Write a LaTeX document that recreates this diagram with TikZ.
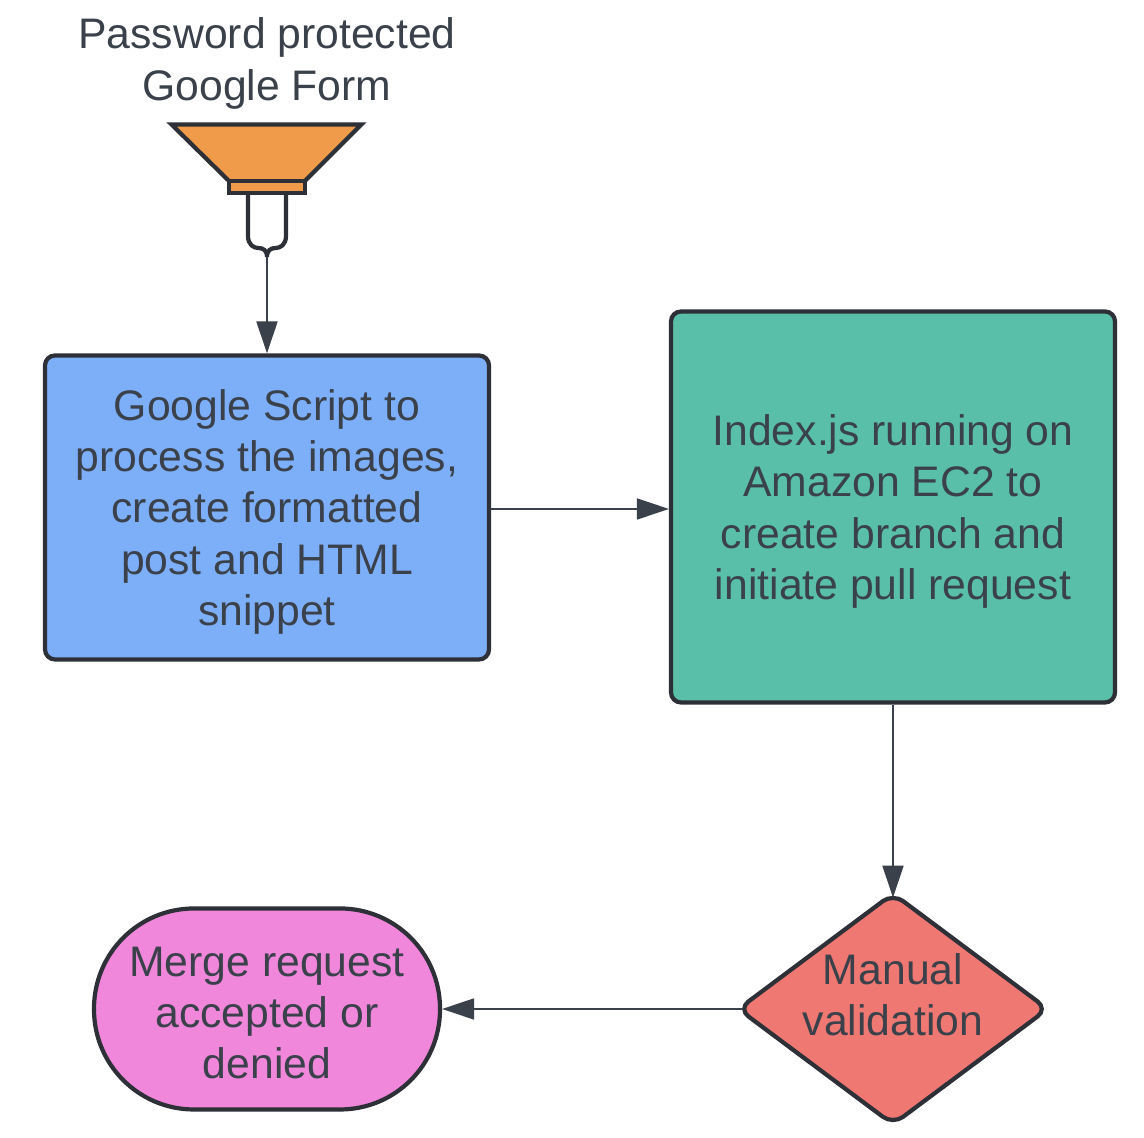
\documentclass[tikz,border=0pt]{standalone}
\usepackage{fontspec}
\setmainfont{Liberation Sans}
\usepackage{tikz}
\usetikzlibrary{arrows.meta, positioning, shapes.geometric, calc}
\definecolor{flow-ink}{RGB}{58, 65, 74}
\definecolor{flow-line}{RGB}{46, 48, 56}
\definecolor{flow-orange}{RGB}{240, 155, 74}
\definecolor{flow-blue}{RGB}{125, 174, 248}
\definecolor{flow-green}{RGB}{89, 191, 168}
\definecolor{flow-red}{RGB}{239, 120, 114}
\definecolor{flow-pink}{RGB}{240, 135, 219}

\begin{document}
\begin{tikzpicture}[
  flowtext/.style={align=center,text=flow-ink,text depth=0pt,font=\fontsize{24.3}{29.2}\selectfont},
  box/.style={flowtext,rectangle,draw=flow-line,line width=2.4pt,rounded corners=0.2cm,
              minimum width=8.88cm},
  decision/.style={flowtext,diamond,draw=flow-line,line width=2.4pt,rounded corners=0.25cm,
              aspect=1.33,inner sep=-0.7cm,text depth=0.58cm,minimum width=6.22cm,minimum height=4.65cm},
  terminal/.style={flowtext,rectangle,draw=flow-line,line width=2.4pt,rounded corners=2cm,
              text height=2.79cm,minimum width=6.92cm,minimum height=4.02cm},
  funnel/.style={draw=flow-line,line width=2.4pt,fill=flow-orange,line join=miter},
  arrow/.style={-{Triangle[length=0.64cm,width=0.42cm]},line width=1.1pt,draw=flow-ink}
]
  \useasboundingbox (0,0) rectangle (22.88,22.76);

  \node[flowtext]                                     (form)   at (5.34,21.58) {Password protected\\Google Form};
  \node[box, fill=flow-blue, minimum height=6.08cm]   (script) at (5.34,12.61) {Google Script to\\process the images,\\create formatted\\post and HTML\\snippet};
  \node[box, fill=flow-green, minimum height=7.82cm]  (index)  at (17.86,12.62) {Index.js running on\\Amazon EC2 to\\create branch and\\initiate pull request};
  \node[decision, fill=flow-red]                      (manual) at (17.86,2.58) {Manual\\validation};
  \node[terminal, fill=flow-pink]                     (merge)  at (5.34,2.58) {Merge request\\accepted or\\denied};

  % funnel below the form title
  \draw[funnel] (3.43,20.27) -- (7.23,20.27) -- (6.08,19.12) -- (4.60,19.12) -- cycle;
  \draw[funnel] (4.58,18.90) rectangle (6.10,19.14);
  \draw[draw=flow-line,line width=2.4pt] (4.96,18.90) -- (4.96,18.04)
    .. controls (4.96,17.86) and (5.08,17.80) .. (5.16,17.80)
    .. controls (5.26,17.80) and (5.34,17.76) .. (5.34,17.62)
    .. controls (5.34,17.76) and (5.42,17.80) .. (5.52,17.80)
    .. controls (5.60,17.80) and (5.72,17.86) .. (5.72,18.04) -- (5.72,18.90);
  \coordinate (tip) at (5.34,17.62);

  \draw[arrow] (tip)    -- (script);
  \draw[arrow] ([yshift=-0.03cm]script.east) -- ([yshift=-0.04cm]index.west);
  \draw[arrow,shorten >=-0.14cm] (index)  -- (manual);
  \draw[arrow,shorten <=-0.14cm] (manual) -- (merge);
\end{tikzpicture}
\end{document}
